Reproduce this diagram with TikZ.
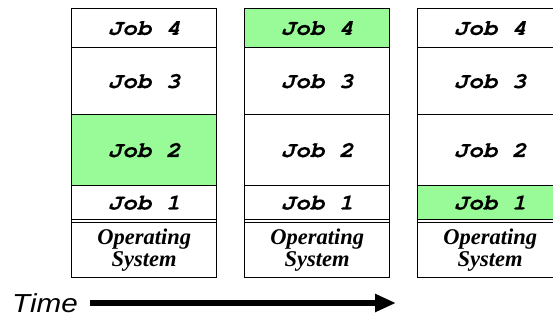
\documentclass[tikz,border=0pt]{standalone}
\usepackage{fontspec}
\setmainfont{Liberation Serif}
\newfontfamily\jobfont{texgyrecursor}[Extension=.otf, UprightFont=*-regular, BoldFont=*-bold, ItalicFont=*-italic, BoldItalicFont=*-bolditalic, BoldItalicFeatures={FakeBold=0.4}]
\newfontfamily\timefont{Liberation Sans}
\usetikzlibrary{arrows.meta}
\definecolor{jobgreen}{RGB}{152,251,152}
\newcommand\joblabel[1]{\scalebox{1.1}[1]{#1}}
\begin{document}
\begin{tikzpicture}[x=1pt,y=-1pt,
  cell/.style={draw=black, line width=1.3pt, anchor=north west, inner sep=0pt,
    minimum width=145pt, font=\jobfont\bfseries\itshape\fontsize{22}{22}\selectfont},
  oscell/.style={cell, align=center, font=\bfseries\itshape\fontsize{22.5}{22}\selectfont},
  active/.style={fill=jobgreen},
  h4/.style={minimum height=39pt},
  h3/.style={minimum height=67pt},
  h2/.style={minimum height=71pt},
  h1/.style={minimum height=34pt},
  hos/.style={minimum height=55pt},
  frame/.style={draw=black, line width=1.3pt, anchor=north west, inner sep=0pt,
    minimum width=145pt, minimum height=269pt},
  timearrow/.style={line width=6pt, -{Triangle[length=21pt,width=17pt]}}]
\clip (0,0) rectangle (553,323);
% column 1
\node[frame] (f1) at (71,8) {};
\node[cell,h4] (a4) at (71,8) {\joblabel{Job 4}};
\node[cell,h3] (a3) at (71,47) {\joblabel{Job 3}};
\node[cell,h2,active] (a2) at (71,114) {\joblabel{Job 2}};
\node[cell,h1] (a1) at (71,185) {\joblabel{Job 1}};
\node[oscell,hos] (aos) at (71,222) {Operating\\System};
% column 2
\node[frame] (f2) at (244,8) {};
\node[cell,h4,active] (b4) at (244,8) {\joblabel{Job 4}};
\node[cell,h3] (b3) at (244,47) {\joblabel{Job 3}};
\node[cell,h2] (b2) at (244,114) {\joblabel{Job 2}};
\node[cell,h1] (b1) at (244,185) {\joblabel{Job 1}};
\node[oscell,hos] (bos) at (244,222) {Operating\\System};
% column 3
\node[frame] (f3) at (417,8) {};
\node[cell,h4] (c4) at (417,8) {\joblabel{Job 4}};
\node[cell,h3] (c3) at (417,47) {\joblabel{Job 3}};
\node[cell,h2] (c2) at (417,114) {\joblabel{Job 2}};
\node[cell,h1,active] (c1) at (417,185) {\joblabel{Job 1}};
\node[oscell,hos] (cos) at (417,222) {Operating\\System};
% time arrow
\node[anchor=east, inner sep=0pt, font=\timefont\itshape\fontsize{26}{26}\selectfont] (time) at (78,303) {\scalebox{1.14}[1]{Time}};
\coordinate (arrowend) at (396,303);
\draw[timearrow] ([xshift=12pt]time.east) -- (arrowend);
\end{tikzpicture}
\end{document}
